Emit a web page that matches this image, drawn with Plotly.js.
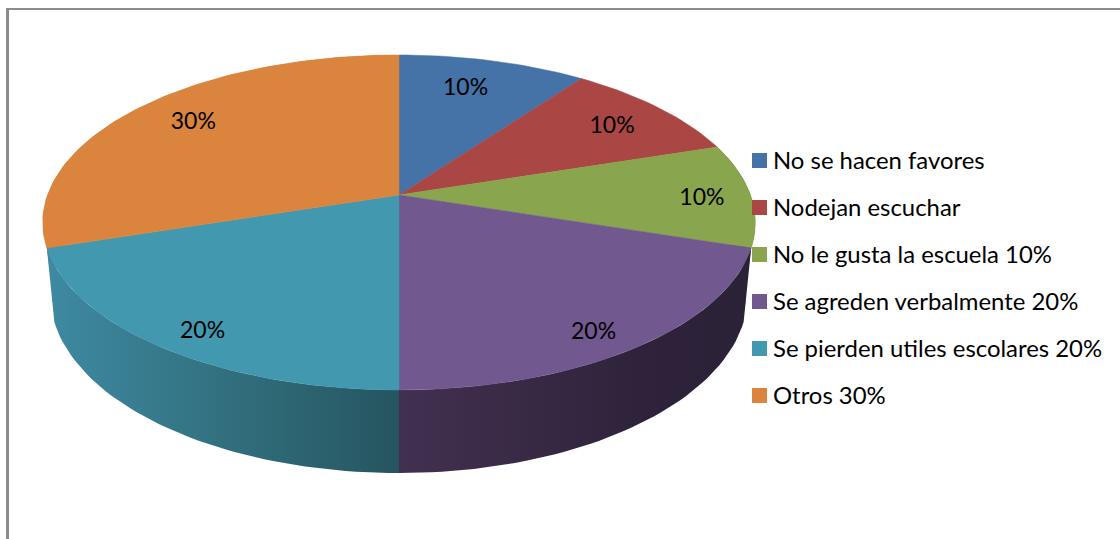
<!DOCTYPE html>
<html><head><meta charset="utf-8">
<script src="https://cdn.plot.ly/plotly-3.0.1.min.js"></script>
<style>html,body{margin:0;padding:0;background:#fff}#chart{width:1120px;height:539px}</style>
</head><body><div id="chart"></div>
<script>
const categories = ["No se hacen favores","Nodejan escuchar","No le gusta la escuela 10%","Se agreden verbalmente 20%","Se pierden utiles escolares 20%","Otros 30%"];
const values = [10,10,10,20,20,30];
const pctLabels = ["10%","10%","10%","20%","20%","30%"];
const topColors = ["#4572A7","#AA4643","#89A54E","#71588F","#4198AF","#DB843D"];
const wallFrom = ["#38597F","#7F3432","#5E7236","#423050","#3E8AA2","#C97A38"];
const wallMid  = ["#38597F","#7F3432","#4A5A2B","#2D2239","#32707F","#C97A38"];
const wallTo   = ["#38597F","#7F3432","#4A5A2B","#2C2238","#25555F","#C97A38"];

// projected geometry of the tilted disc, in page pixels
const cx = 399, k = 0.164;
const topDisc = {y0:195, A:163, B:351.5};
const botDisc = {y0:265.6, A:173.4, B:344};
const farBotDisc = {y0:265.6, A:173.4, B:342};
const labelR = [.77,.80,.86,.88,.88,.80];
const labelNudge = [-2,.6,.8,2.4,-2,1.8];
const labelDy = 2;

function proj(d, deg, r){
  const a = deg*Math.PI/180, u = r*Math.sin(a), v = r*Math.cos(a), w = 1+k*v;
  return [cx + d.B*u/w, d.y0 - d.A*v/w];
}
function arc(d, a0, a1){
  const n = Math.max(4, Math.ceil(Math.abs(a1-a0)/1.5)), pts=[];
  for(let i=0;i<=n;i++) pts.push(proj(d, a0+(a1-a0)*i/n, 1));
  return pts;
}
const total = values.reduce((s,v)=>s+v,0);
let acc = 0;
const slices = values.map(v=>{const s={a0:acc/total*360,a1:(acc+v)/total*360};acc+=v;return s;});

const traces = [];
function poly(pts, extra){
  traces.push(Object.assign({type:"scatter",mode:"lines",x:pts.map(p=>p[0]),y:pts.map(p=>p[1]),
    fill:"toself",hoverinfo:"skip",showlegend:false},extra));
}
// side walls: far pieces first, front pieces last
[5,2,3,4].forEach(i=>{
  const s = slices[i];
  const lower = (i===5 || i===2) ? farBotDisc : botDisc;
  const pts = arc(topDisc,s.a0,s.a1).concat(arc(lower,s.a1,s.a0));
  pts.push(pts[0]);
  const scale = i===3 ? [[0,wallFrom[i]],[.75,wallMid[i]],[1,wallTo[i]]]
                      : [[0,wallFrom[i]],[.5,wallMid[i]],[1,wallTo[i]]];
  poly(pts,{line:{width:0},fillcolor:wallFrom[i],fillgradient:{type:"horizontal",colorscale:scale}});
});
// top face
slices.forEach((s,i)=>{
  const c = proj(topDisc,0,0);
  const pts = [c].concat(arc(topDisc,s.a0,s.a1)); pts.push(c);
  poly(pts,{line:{width:.5,color:topColors[i]},fillcolor:topColors[i]});
});
// percentage labels
const lp = slices.map((s,i)=>proj(topDisc,(s.a0+s.a1)/2+labelNudge[i],labelR[i]));
traces.push({type:"scatter",mode:"text",x:lp.map(p=>p[0]),y:lp.map(p=>p[1]+labelDy),text:pctLabels,
  textposition:"middle center",textfont:{family:"Lato, Carlito, sans-serif",size:23,color:"#000"},
  hoverinfo:"skip",showlegend:false});
// legend
const legX = 759.5, legY0 = 160.5, legStep = 47;
traces.push({type:"scatter",mode:"markers",x:categories.map(()=>legX),y:categories.map((c,i)=>legY0+i*legStep),
  marker:{symbol:"square",size:15,color:topColors,line:{width:0}},hoverinfo:"skip",showlegend:false});
const annotations = categories.map((c,i)=>({xref:"x",yref:"y",x:770.5,y:legY0+i*legStep-1,text:c,showarrow:false,
  xanchor:"left",yanchor:"middle",font:{family:"Lato, Carlito, sans-serif",size:23.9,color:"#000"}}));

const layout = {
  width:1120,height:539,margin:{l:0,r:0,t:0,b:0},paper_bgcolor:"#fff",plot_bgcolor:"#fff",showlegend:false,
  xaxis:{range:[0,1120],visible:false,fixedrange:true},
  yaxis:{range:[539,0],visible:false,fixedrange:true},
  annotations,
  shapes:[
    {type:"line",xref:"x",yref:"y",x0:7.5,x1:7.5,y0:8,y1:539,line:{color:"#8C8C8C",width:3}},
    {type:"line",xref:"x",yref:"y",x0:6,x1:1120,y0:9,y1:9,line:{color:"#8C8C8C",width:2}}
  ]
};
Plotly.newPlot("chart",traces,layout,{displayModeBar:false,staticPlot:true});
</script></body></html>
